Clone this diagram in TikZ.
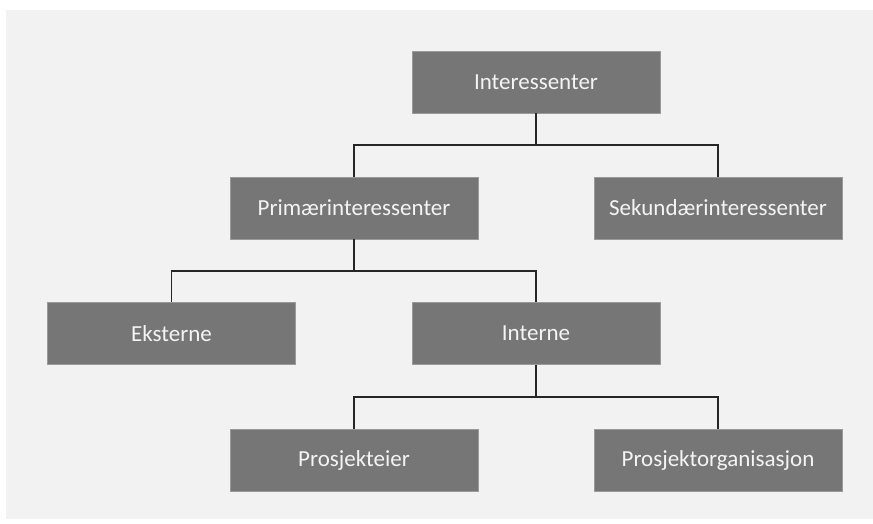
\documentclass[tikz,border=0pt]{standalone}
\usepackage{fontspec}
\setmainfont{Carlito}
\definecolor{panel}{HTML}{F2F2F2}
\definecolor{boxfill}{HTML}{767676}
\definecolor{boxedge}{HTML}{9A9A9A}
\definecolor{boxtext}{HTML}{F4F4F4}
\begin{document}
\begin{tikzpicture}[x=1pt,y=-1pt,
  orgbox/.style={draw=boxedge, line width=0.8pt, fill=boxfill, text=boxtext,
    minimum width=248pt, minimum height=62pt, inner sep=0pt,
    font=\fontsize{23}{27}\selectfont},
  link/.style={draw=black!85, line width=1.4pt}]
  \useasboundingbox (0,0) rectangle (873,524);
  \fill[panel] (6,10) rectangle (873,519);

  % boxes
  \node[orgbox] (top)  at (536,82)    {Interessenter};
  \node[orgbox] (prim) at (354,208)   {Primærinteressenter};
  \node[orgbox] (sek)  at (718,208)   {Sekundærinteressenter};
  \node[orgbox] (eks)  at (171.5,333.5) {Eksterne};
  \node[orgbox] (int)  at (536,333.5) {Interne};
  \node[orgbox] (pe)   at (354,460)   {Prosjekteier};
  \node[orgbox] (po)   at (718,460)   {Prosjektorganisasjon};

  % bus junctions
  \coordinate (b1) at (536,145);
  \coordinate (b2) at (354,271);
  \coordinate (b3) at (536,397);

  % connectors
  \draw[link] (top.south) -- (b1);
  \draw[link] (prim.north) |- (b1) -| (sek.north);
  \draw[link] (prim.south) -- (b2);
  \draw[link] (eks.north) |- (b2) -| (int.north);
  \draw[link] (int.south) -- (b3);
  \draw[link] (pe.north) |- (b3) -| (po.north);
\end{tikzpicture}
\end{document}
